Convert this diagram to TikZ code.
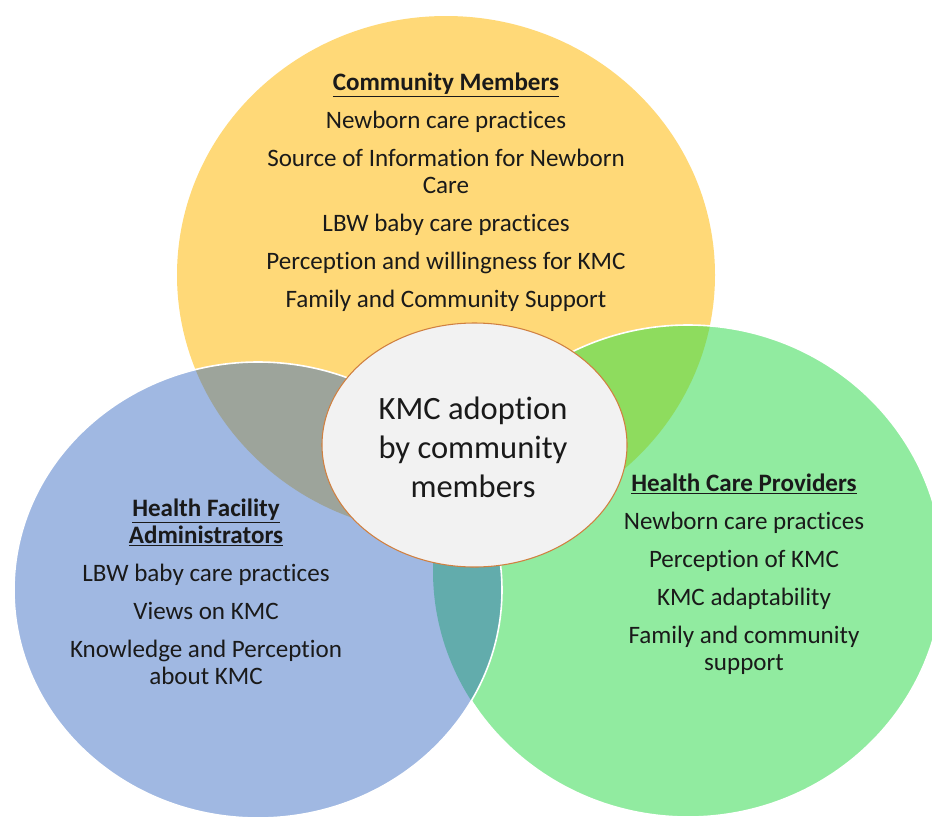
\documentclass[tikz,border=0pt]{standalone}
\usepackage{fontspec}
\setmainfont{Carlito}[Ligatures={NoCommon}]
\usetikzlibrary{positioning}
\definecolor{cmyellow}{HTML}{FFD978}
\definecolor{hfblue}{HTML}{A0B8E2}
\definecolor{hpgreen}{HTML}{91EBA0}
\definecolor{ybgray}{HTML}{9DA49B}
\definecolor{yggreen}{HTML}{8EDC5E}
\definecolor{bgteal}{HTML}{62ACAC}
\definecolor{hubfill}{HTML}{F2F2F2}
\definecolor{hubline}{HTML}{D08040}
\definecolor{ink}{HTML}{1A1A1A}
\begin{document}
\begin{tikzpicture}[x=0.75pt,y=-0.75pt,
  item/.style={align=center, text=ink, font=\fontsize{18.8}{20.3}\selectfont},
  hub/.style={align=center, text=ink, font=\fontsize{24.4}{29.3}\selectfont},
  rim/.style={draw=white, line width=1.2}]
\useasboundingbox (0,0) rectangle (932,818);
\def\yel{(446,275) ellipse [x radius=269, y radius=259]}
\def\grn{(688,571) ellipse [x radius=255, y radius=246]}
\def\blu{(258,590) ellipse [x radius=244, y radius=228]}
\def\gap{8.25pt}
% circles, then overlaps
\fill[cmyellow] \yel;
\fill[hpgreen] \grn;
\begin{scope}
  \clip \yel;
  \fill[yggreen] \grn;
\end{scope}
\path[rim] \grn;
\fill[hfblue] \blu;
\begin{scope}
  \clip \blu;
  \fill[ybgray] \yel;
  \fill[bgteal] \grn;
\end{scope}
\path[rim] \blu;
% centre
\draw[hubline, fill=hubfill, line width=0.8] (474.5,445) ellipse [x radius=152.5, y radius=122];
\node[hub] (adoption) at (473,447) {KMC adoption\\by community\\members};
% texts
\node[item] (community) at (446,192.5) {\underline{\textbf{Community Members}}\\[\gap]
  Newborn care practices\\[\gap]
  Source of Information for Newborn\\Care\\[\gap]
  LBW baby care practices\\[\gap]
  Perception and willingness for KMC\\[\gap]
  Family and Community Support};
\node[item] (facility) at (206,592) {\underline{\textbf{Health Facility}}\\\underline{\textbf{Administrators}}\\[\gap]
  LBW baby care practices\\[\gap]
  Views on KMC\\[\gap]
  Knowledge and Perception\\about KMC};
\node[item] (providers) at (744,574) {\underline{\textbf{Health Care Providers}}\\[\gap]
  Newborn care practices\\[\gap]
  Perception of KMC\\[\gap]
  KMC adaptability\\[\gap]
  Family and community\\support};
\end{tikzpicture}
\end{document}
